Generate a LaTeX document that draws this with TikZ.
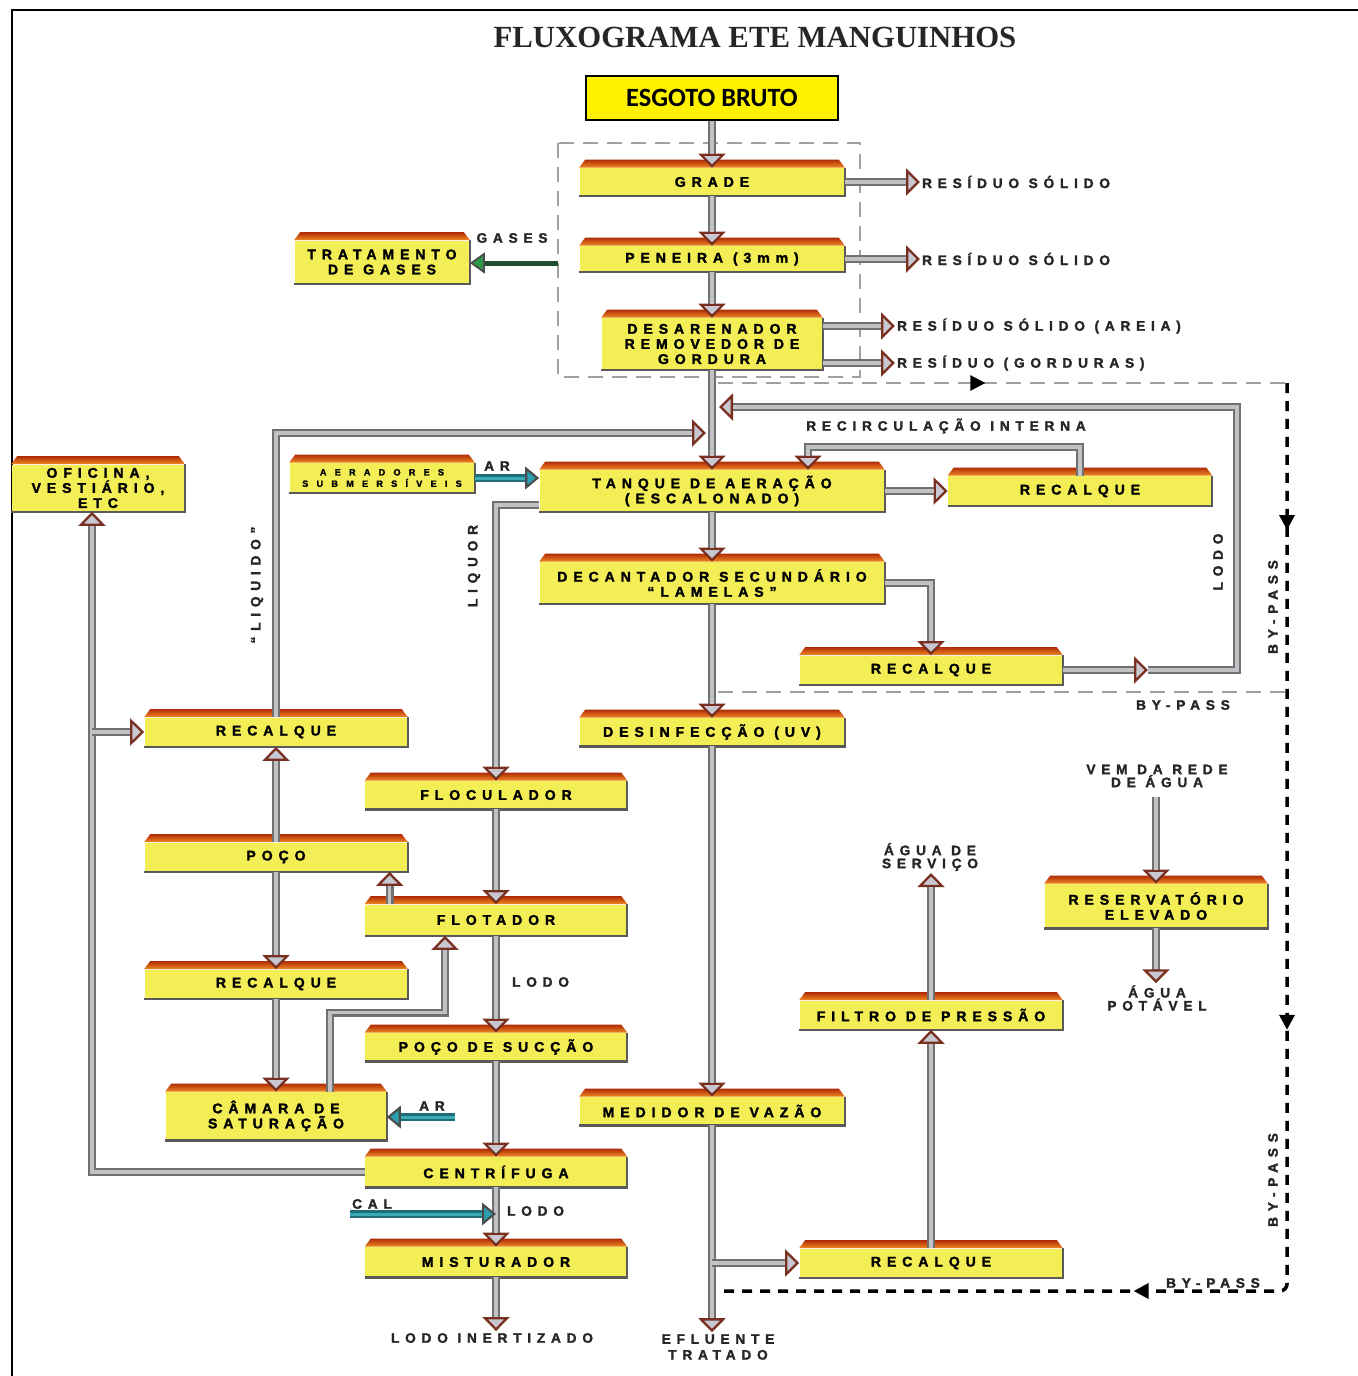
\documentclass[tikz,border=0pt]{standalone}
\usepackage{fontspec}
\setmainfont{Liberation Serif}
\newfontfamily\titulofont{Liberation Serif}
\newfontfamily\etafont{Liberation Sans}[LetterSpace=42, BoldFeatures={FakeBold=1.8}]
\newfontfamily\etafontlarga{Liberation Sans}[LetterSpace=90, BoldFeatures={FakeBold=1.5}]
\newfontfamily\brutofont{Carlito}
\usetikzlibrary{arrows.meta, positioning, calc, decorations.markings}

\definecolor{amarelo}{HTML}{F3EE55}
\definecolor{biseltopo}{HTML}{B02C08}
\definecolor{biselbase}{HTML}{F08A20}
\definecolor{cinzaescuro}{HTML}{5A5A5A}
\definecolor{tubofora}{HTML}{707070}
\definecolor{tubodentro}{HTML}{C2C2C6}
\definecolor{pontafora}{HTML}{7A3020}
\definecolor{pontadentro}{HTML}{C8C8D2}
\definecolor{arfora}{HTML}{1F6E78}
\definecolor{ardentro}{HTML}{3AAAB4}
\definecolor{arponta}{HTML}{2AA0B0}
\definecolor{gasverde}{HTML}{1E5030}
\definecolor{gasponta}{HTML}{2E9A48}

\begin{document}
\begin{tikzpicture}[
  x=0.02cm, y=-0.02cm,
  etapa/.style={fill=amarelo, minimum width=5.26cm, minimum height=0.58cm, inner sep=1pt, align=center, text=black,
    font=\etafont\bfseries\fontsize{8}{8.6}\selectfont},
  rotulo/.style={inner sep=1pt, align=center, text=black!85, font=\etafont\bfseries\fontsize{7.8}{7.4}\selectfont},
  sombra/.style={draw=cinzaescuro, line width=1.3pt},
  fluxo/.style={draw=tubofora, line width=0.16cm,
    -{Triangle[width=0.54cm, length=0.28cm, line width=1.3pt, color=pontafora, fill=pontadentro]},
    postaction={draw=tubodentro, line width=0.07cm, arrows=-, shorten >=0.28cm}},
  arfluxo/.style={draw=arfora, line width=0.15cm,
    -{Triangle[width=0.45cm, length=0.28cm, line width=1.2pt, color=black!70, fill=arponta]},
    postaction={draw=ardentro, line width=0.06cm, arrows=-, shorten >=0.28cm}},
  gasfluxo/.style={draw=gasverde, line width=0.1cm,
    -{Triangle[width=0.42cm, length=0.3cm, line width=1pt, color=black!70, fill=gasponta]}},
  caixa/.style={draw=gray!75, line width=1.3pt, dash pattern=on 0.3cm off 0.18cm},
  desvio/.style={draw=black, line width=2pt, dash pattern=on 0.2cm off 0.16cm},
  seta/.style={postaction={decorate, decoration={markings,
    mark=at position #1 with {\arrow[black]{Triangle[width=0.3cm, length=0.3cm]}}}}}
]

\fill[white] (0,0) rectangle (1357,1376);
\useasboundingbox (0,0) rectangle (1357,1376);
\draw[line width=1.6pt] (12,1400) -- (12,10) -- (1400,10);

% Titulo e entrada
\node[font=\titulofont\bfseries\fontsize{17.5}{20}\selectfont, text=black!85] (titulo) at (755,37) {FLUXOGRAMA ETE MANGUINHOS};
\node[draw=black, line width=1.2pt, fill=yellow, minimum width=5.04cm, minimum height=0.88cm,
  font=\brutofont\bfseries\fontsize{15}{18}\selectfont] (esgoto) at (712,98) {ESGOTO BRUTO};

% Pre-tratamento
\node[etapa, minimum width=5.3cm, minimum height=0.56cm] (grade) at (712,182) {GRADE};
\node[etapa, minimum width=5.3cm, minimum height=0.52cm] (peneira) at (712,259) {PENEIRA (3mm)};
\node[etapa, minimum width=4.42cm, minimum height=1.04cm] (desarenador) at (712,344) {DESARENADOR\\REMOVEDOR DE\\GORDURA};
\node[etapa, minimum width=3.5cm, minimum height=0.86cm] (tratamento) at (382,262) {TRATAMENTO\\DE GASES};

% Fase liquida
\node[etapa, minimum width=3.46cm, minimum height=0.94cm] (oficina) at (98,488) {OFICINA,\\VESTIÁRIO,\\ETC};
\node[etapa, minimum width=3.7cm, minimum height=0.6cm, font=\etafontlarga\bfseries\fontsize{5.2}{6.5}\selectfont] (aeradores) at (382,478) {AERADORES\\SUBMERSÍVEIS};
\node[etapa, minimum width=6.9cm, minimum height=0.84cm] (tanque) at (712,491) {TANQUE DE AERAÇÃO\\(ESCALONADO)};
\node[etapa, minimum width=5.28cm, minimum height=0.6cm] (recalqueR) at (1080,491) {RECALQUE};
\node[etapa, minimum width=6.9cm, minimum height=0.84cm] (decantador) at (712,583) {DECANTADOR SECUNDÁRIO\\“LAMELAS”};
\node[etapa] (recalqueL) at (931,670) {RECALQUE};
\node[etapa, minimum width=5.3cm, minimum height=0.56cm] (desinfeccao) at (712,732) {DESINFECÇÃO (UV)};
\node[etapa, minimum width=5.3cm, minimum height=0.56cm] (medidor) at (712,1111) {MEDIDOR DE VAZÃO};
\node[etapa] (recalqueC) at (931,1263) {RECALQUE};
\node[etapa] (filtro) at (931,1015) {FILTRO DE PRESSÃO};
\node[etapa, minimum width=4.46cm, minimum height=0.88cm] (reservatorio) at (1156,906) {RESERVATÓRIO\\ELEVADO};

% Fase solida
\node[etapa] (recalqueA) at (276,732) {RECALQUE};
\node[etapa] (poco) at (276,857) {POÇO};
\node[etapa] (recalqueB) at (276,984) {RECALQUE};
\node[etapa, minimum width=4.42cm, minimum height=0.96cm] (camara) at (276,1116) {CÂMARA DE\\SATURAÇÃO};
\node[etapa, minimum width=5.24cm, minimum height=0.56cm] (floculador) at (496,795) {FLOCULADOR};
\node[etapa, minimum width=5.24cm, minimum height=0.62cm] (flotador) at (496,920) {FLOTADOR};
\node[etapa, minimum width=5.24cm, minimum height=0.56cm] (succao) at (496,1047) {POÇO DE SUCÇÃO};
\node[etapa, minimum width=5.24cm, minimum height=0.6cm] (centrifuga) at (496,1172) {CENTRÍFUGA};
\node[etapa, minimum width=5.24cm, minimum height=0.6cm] (misturador) at (496,1262) {MISTURADOR};

% Bisel e sombra das caixas
\foreach \n in {grade,peneira,desarenador,tratamento,oficina,aeradores,tanque,recalqueR,decantador,recalqueL,
  desinfeccao,medidor,recalqueC,filtro,reservatorio,recalqueA,poco,recalqueB,camara,floculador,flotador,succao,
  centrifuga,misturador}{
  \shade[top color=biseltopo, bottom color=biselbase] (\n.north west) -- ++(6,-8)
    -- ([shift={(-6,-8)}]\n.north east) -- (\n.north east) -- cycle;
  \draw[sombra] (\n.north east) -- (\n.south east) -- (\n.south west);
}

% Rotulos
\node[rotulo, anchor=west] (res1) at (920,182) {RESÍDUO SÓLIDO};
\node[rotulo, anchor=west] (res2) at (920,259) {RESÍDUO SÓLIDO};
\node[rotulo, anchor=west] (res3) at (895,326) {RESÍDUO SÓLIDO (AREIA)};
\node[rotulo, anchor=west] (res4) at (895,363) {RESÍDUO (GORDURAS)};
\node[rotulo] (gases) at (512,238) {GASES};
\node[rotulo] (recirculacao) at (946,426) {RECIRCULAÇÃO INTERNA};
\node[rotulo] (ar1) at (497,466) {AR};
\node[rotulo, rotate=90] (liquido) at (257,585) {“LIQUIDO”};
\node[rotulo, rotate=90] (liquor) at (474,566) {LIQUOR};
\node[rotulo, rotate=90] (lodo1) at (1218,562) {LODO};
\node[rotulo, rotate=90] (bypass1) at (1273,607) {BY-PASS};
\node[rotulo] (bypass2) at (1183,705) {BY-PASS};
\node[rotulo, rotate=90] (bypass3) at (1273,1180) {BY-PASS};
\node[rotulo] (bypass4) at (1213,1283) {BY-PASS};
\node[rotulo] (rede) at (1157,776) {VEM DA REDE\\DE ÁGUA};
\node[rotulo] (servico) at (930,857) {ÁGUA DE\\SERVIÇO};
\node[rotulo] (potavel) at (1157,998) {ÁGUA\\POTÁVEL};
\node[rotulo, anchor=west] (lodo2) at (510,982) {LODO};
\node[rotulo] (ar2) at (432,1106) {AR};
\node[rotulo] (cal) at (372,1204) {CAL};
\node[rotulo, anchor=west] (lodo3) at (505,1211) {LODO};
\node[rotulo] (inertizado) at (492,1338) {LODO INERTIZADO};
\node[rotulo, font=\etafont\bfseries\fontsize{7.8}{9}\selectfont] (efluente) at (718,1347) {EFLUENTE\\TRATADO};

% Pontos livres
\coordinate (caixaesq) at (558,263);
\coordinate (retornoA) at (706,433);
\coordinate (retornoB) at (719,407);
\coordinate (lodomeio) at (1148,670);
\coordinate (lodocanto) at (1237,407);
\coordinate (recirc) at (808,447);
\coordinate (ramo) at (92,732);
\coordinate (arini) at (455,1117);
\coordinate (calini) at (350,1214);
\coordinate (flotsaida) at ([xshift=0.5cm]flotador.north west);
\coordinate (camsaida) at ([xshift=1.08cm]camara.north);
\coordinate (flotentrada) at ([xshift=-1.02cm]flotador.south);
\coordinate (bpA) at (718,383);
\coordinate (bpB) at (1287,383);
\coordinate (bpC) at (1287,1291);
\coordinate (bpD) at (722,1291);
\coordinate (bpM) at (718,692);
\coordinate (bpN) at (1285,692);

% Pre-tratamento (caixa tracejada) e by-pass
\draw[caixa] (558,143) rectangle (860,377);
\draw[caixa, seta=0.47] (bpA) -- (bpB);
\draw[caixa] (bpM) -- (bpN);
\draw[desvio, rounded corners=4pt, seta=0.1, seta=0.44, seta=0.72] (bpB) -- (bpC) -- (bpD);

% Linha principal
\draw[fluxo] (esgoto.south) -- (grade.north);
\draw[fluxo] (grade.south) -- (peneira.north);
\draw[fluxo] (peneira.south) -- (desarenador.north);
\draw[fluxo] (grade.east) -- (res1.west);
\draw[fluxo] (peneira.east) -- (res2.west);
\draw[fluxo] (desarenador.east |- res3) -- (res3.west);
\draw[fluxo] (desarenador.east |- res4) -- (res4.west);
\draw[gasfluxo] (caixaesq) -- (caixaesq -| tratamento.east);
\draw[fluxo] (desarenador.south) -- (tanque.north);
\draw[fluxo] (recalqueA.north) |- (retornoA);
\draw[fluxo] (lodomeio) -| (lodocanto) -- (retornoB);
\draw[fluxo] (recalqueL.east) -- (lodomeio);
\draw[fluxo] (recalqueR.north) |- (recirc) -- (recirc |- tanque.north);
\draw[arfluxo] (aeradores.east) -- (aeradores.east -| tanque.west);
\draw[fluxo] ([yshift=-0.28cm]tanque.west) -| (floculador.north);
\draw[fluxo] (tanque.south) -- (decantador.north);
\draw[fluxo] (tanque.east) -- (recalqueR.west);
\draw[fluxo] (decantador.east) -| (recalqueL.north);
\draw[fluxo] (decantador.south) -- (desinfeccao.north);
\draw[fluxo] (desinfeccao.south) -- (medidor.north);
\draw[fluxo] (medidor.south) -- (medidor.south |- efluente.north);
\draw[fluxo] (medidor.south |- recalqueC) -- (recalqueC.west);
\draw[fluxo] (recalqueC.north) -- (filtro.south);
\draw[fluxo] (filtro.north) -- (filtro.north |- servico.south);
\draw[fluxo] ([yshift=-0.15cm]rede.south -| reservatorio.north) -- (reservatorio.north);
\draw[fluxo] (reservatorio.south) -- (reservatorio.south |- potavel.north);

% Lodo
\draw[fluxo] (poco.north) -- (recalqueA.south);
\draw[fluxo] (poco.south) -- (recalqueB.north);
\draw[fluxo] (recalqueB.south) -- (camara.north);
\draw[fluxo] (floculador.south) -- (flotador.north);
\draw[fluxo] (flotador.south) -- (succao.north);
\draw[fluxo] (succao.south) -- (centrifuga.north);
\draw[fluxo] (centrifuga.south) -- (misturador.north);
\draw[fluxo] (misturador.south) -- (misturador.south |- inertizado.north);
\draw[fluxo] (flotsaida) -- (flotsaida |- poco.south);
\draw[fluxo] (camsaida) -- ++(0,-79) -| (flotentrada);
\draw[fluxo] (centrifuga.west) -| (ramo) -- (ramo |- oficina.south);
\draw[fluxo] (ramo) -- (recalqueA.west);
\draw[arfluxo] (arini) -- (arini -| camara.east);
\draw[arfluxo] (calini) -- (calini -| misturador.north);

\end{tikzpicture}
\end{document}
